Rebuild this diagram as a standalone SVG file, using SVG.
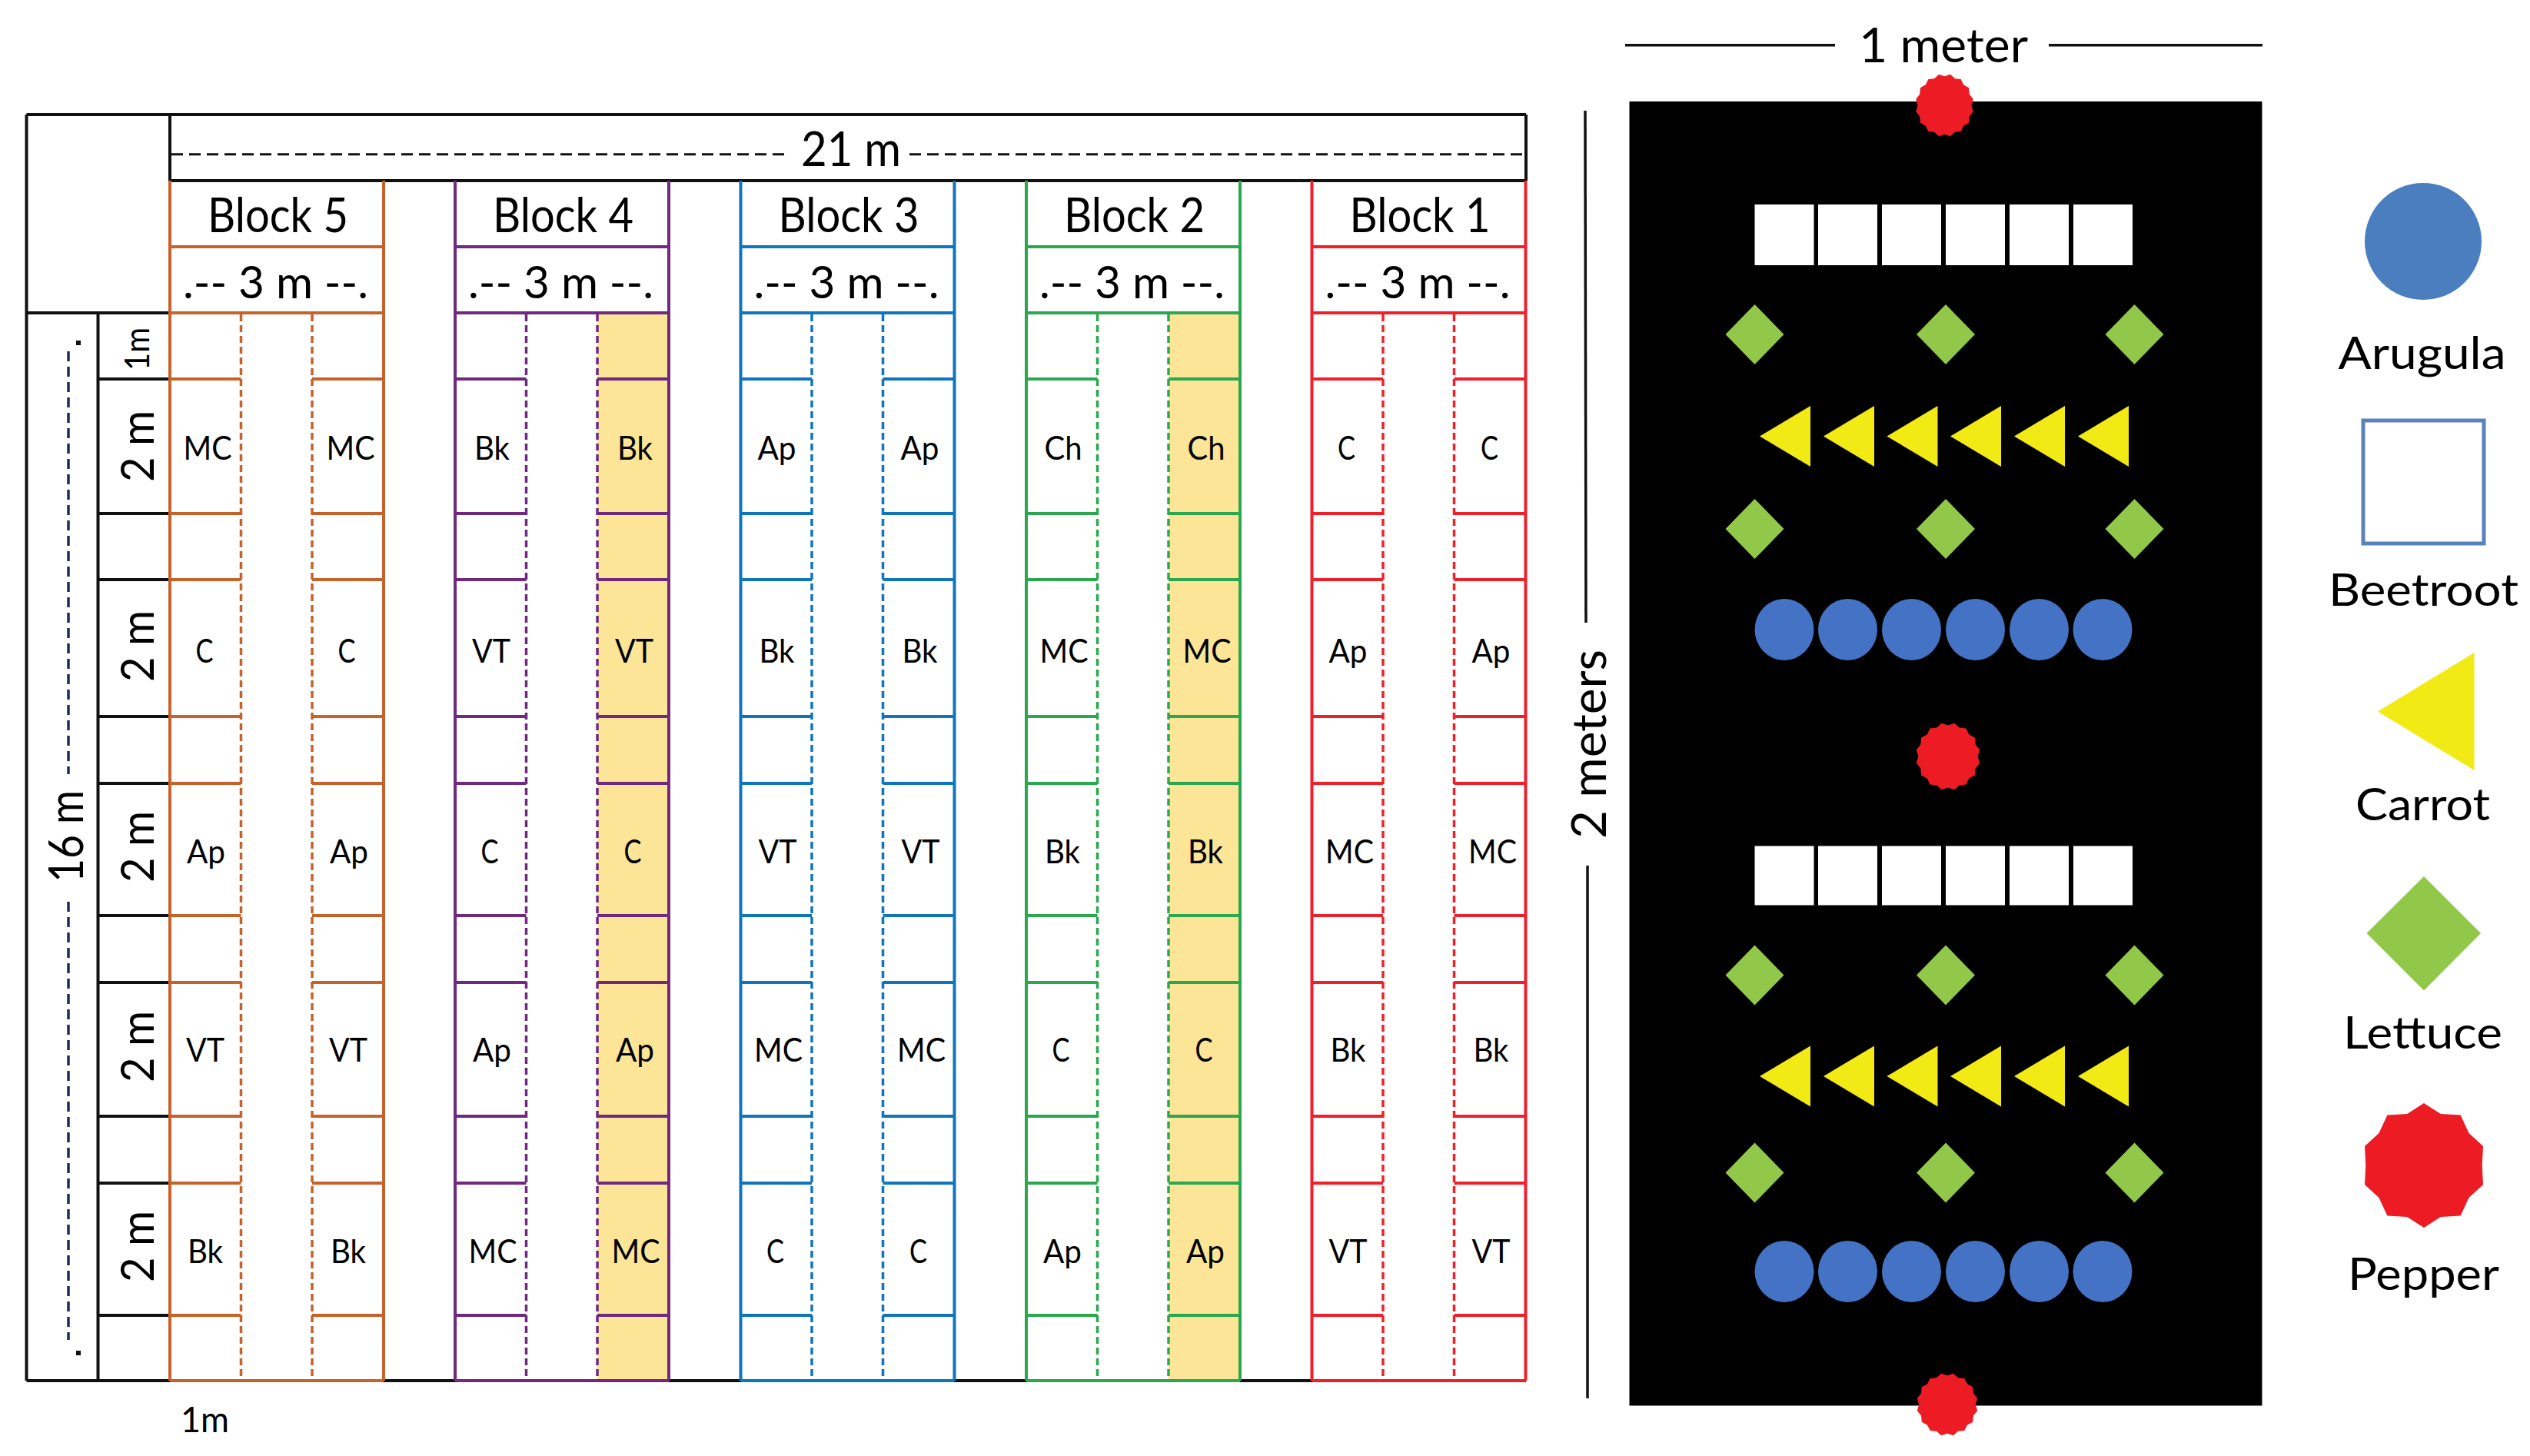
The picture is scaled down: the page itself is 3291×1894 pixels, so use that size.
<svg xmlns="http://www.w3.org/2000/svg" xmlns:xlink="http://www.w3.org/1999/xlink" width="3291" height="1894" viewBox="0 0 3291 1894">
<style>
text{font-family:"Lato","Liberation Sans",sans-serif;fill:#000;}
.hd{font-size:61px;}
.dm{font-size:58px;}
.cell{font-size:43px;text-anchor:middle;}
.rot{font-size:60px;}
.leg{font-size:58px;}
.blk{stroke:#111;stroke-width:4;fill:none;}
.dim{stroke:#111;stroke-width:3.5;fill:none;}
.ddim{stroke:#111;stroke-width:3;fill:none;stroke-dasharray:15 8;}
.lft{stroke:#1c2a5e;stroke-width:3.5;fill:none;stroke-dasharray:13 7;}
.frame line{fill:none;stroke-width:4;}
.frame .d{stroke-width:3.5;stroke-dasharray:9 5;}
.b5{stroke:#C8622B;}.b4{stroke:#6F2A7F;}.b3{stroke:#0F75BD;}.b2{stroke:#2BA84F;}.b1{stroke:#F0202A;}
.g{fill:#92C84A;}.y{fill:#F2EA14;}.r{fill:#ED1C24;}.a{fill:#4472C4;}
</style>
<defs>
<g id="frame" class="frame">
<line x1="0" y1="235" x2="0" y2="1796"/><line x1="278" y1="235" x2="278" y2="1796"/>
<line x1="0" y1="321" x2="278" y2="321"/><line x1="0" y1="407" x2="278" y2="407"/><line x1="0" y1="1796" x2="278" y2="1796"/>
<line class="d" x1="92.5" y1="409" x2="92.5" y2="1792"/><line class="d" x1="185" y1="409" x2="185" y2="1796"/>
<line x1="0" y1="493" x2="92.5" y2="493"/><line x1="185" y1="493" x2="278" y2="493"/>
<line x1="0" y1="668" x2="92.5" y2="668"/><line x1="185" y1="668" x2="278" y2="668"/>
<line x1="0" y1="754" x2="92.5" y2="754"/><line x1="185" y1="754" x2="278" y2="754"/>
<line x1="0" y1="932" x2="92.5" y2="932"/><line x1="185" y1="932" x2="278" y2="932"/>
<line x1="0" y1="1019" x2="92.5" y2="1019"/><line x1="185" y1="1019" x2="278" y2="1019"/>
<line x1="0" y1="1191" x2="92.5" y2="1191"/><line x1="185" y1="1191" x2="278" y2="1191"/>
<line x1="0" y1="1278" x2="92.5" y2="1278"/><line x1="185" y1="1278" x2="278" y2="1278"/>
<line x1="0" y1="1452" x2="92.5" y2="1452"/><line x1="185" y1="1452" x2="278" y2="1452"/>
<line x1="0" y1="1539" x2="92.5" y2="1539"/><line x1="185" y1="1539" x2="278" y2="1539"/>
<line x1="0" y1="1711" x2="92.5" y2="1711"/><line x1="185" y1="1711" x2="278" y2="1711"/>
</g>
<rect id="yel" x="185" y="407" width="93" height="1389" fill="#FDE597"/>
<polygon id="diam" points="0,-39 38,0 0,39 -38,0"/>
<polygon id="carr" points="0,0 66,-39.5 66,39.5"/>
<ellipse id="circ" rx="38.5" ry="40"/>
<rect id="sq" width="77" height="79" fill="#fff"/>
<rect id="sq2" width="77" height="77" fill="#fff"/>
<polygon id="seal16" points="0,-92 19.5,-98.1 35.2,-85 55.6,-83.1 65,-65 83.1,-55.6 85,-35.2 98.1,-19.5 92,0 98.1,19.5 85,35.2 83.1,55.6 65,65 55.6,83.1 35.2,85 19.5,98.1 0,92 -19.5,98.1 -35.2,85 -55.6,83.1 -65,65 -83.1,55.6 -85,35.2 -98.1,19.5 -92,0 -98.1,-19.5 -85,-35.2 -83.1,-55.6 -65,-65 -55.6,-83.1 -35.2,-85 -19.5,-98.1"/>
</defs>
<rect width="3291" height="1894" fill="#fff"/>

<g id="grid-frame">
<line class="blk" x1="34.5" y1="149" x2="1985" y2="149"/>
<line class="blk" x1="34.5" y1="149" x2="34.5" y2="1796"/>
<line class="blk" x1="221" y1="149" x2="221" y2="407"/>
<line class="blk" x1="1985" y1="149" x2="1985" y2="235"/>
<line class="blk" x1="221" y1="235" x2="1985" y2="235"/>
<line class="blk" x1="34.5" y1="407" x2="221" y2="407"/>
<line class="blk" x1="127.5" y1="407" x2="127.5" y2="1796"/>
<line class="blk" x1="34.5" y1="1796" x2="1985" y2="1796"/>
<line class="blk" x1="127.5" y1="493" x2="221" y2="493"/>
<line class="blk" x1="127.5" y1="668" x2="221" y2="668"/>
<line class="blk" x1="127.5" y1="754" x2="221" y2="754"/>
<line class="blk" x1="127.5" y1="932" x2="221" y2="932"/>
<line class="blk" x1="127.5" y1="1019" x2="221" y2="1019"/>
<line class="blk" x1="127.5" y1="1191" x2="221" y2="1191"/>
<line class="blk" x1="127.5" y1="1278" x2="221" y2="1278"/>
<line class="blk" x1="127.5" y1="1452" x2="221" y2="1452"/>
<line class="blk" x1="127.5" y1="1539" x2="221" y2="1539"/>
<line class="blk" x1="127.5" y1="1711" x2="221" y2="1711"/>
</g>

<g id="block-5" transform="translate(221 0)">
<use xlink:href="#frame" href="#frame" class="b5"/>
<text class="hd" x="49" y="302" textLength="183" lengthAdjust="spacingAndGlyphs">Block 5</text>
<text class="dm" x="17" y="388" textLength="241" lengthAdjust="spacingAndGlyphs">.-- 3 m --.</text>
<text class="cell" x="49" y="598" textLength="63" lengthAdjust="spacingAndGlyphs">MC</text><text class="cell" x="235" y="598" textLength="63" lengthAdjust="spacingAndGlyphs">MC</text>
<text class="cell" x="45" y="862" textLength="23" lengthAdjust="spacingAndGlyphs">C</text><text class="cell" x="230" y="862" textLength="23" lengthAdjust="spacingAndGlyphs">C</text>
<text class="cell" x="47" y="1123" textLength="50" lengthAdjust="spacingAndGlyphs">Ap</text><text class="cell" x="233" y="1123" textLength="50" lengthAdjust="spacingAndGlyphs">Ap</text>
<text class="cell" x="46" y="1381" textLength="50" lengthAdjust="spacingAndGlyphs">VT</text><text class="cell" x="232" y="1381" textLength="50" lengthAdjust="spacingAndGlyphs">VT</text>
<text class="cell" x="46" y="1643" textLength="46" lengthAdjust="spacingAndGlyphs">Bk</text><text class="cell" x="232" y="1643" textLength="46" lengthAdjust="spacingAndGlyphs">Bk</text>
</g>

<g id="block-4" transform="translate(592 0)">
<use xlink:href="#yel" href="#yel"/>
<use xlink:href="#frame" href="#frame" class="b4"/>
<text class="hd" x="49" y="302" textLength="183" lengthAdjust="spacingAndGlyphs">Block 4</text>
<text class="dm" x="17" y="388" textLength="241" lengthAdjust="spacingAndGlyphs">.-- 3 m --.</text>
<text class="cell" x="48" y="598" textLength="46" lengthAdjust="spacingAndGlyphs">Bk</text><text class="cell" x="234" y="598" textLength="46" lengthAdjust="spacingAndGlyphs">Bk</text>
<text class="cell" x="47" y="862" textLength="50" lengthAdjust="spacingAndGlyphs">VT</text><text class="cell" x="233" y="862" textLength="50" lengthAdjust="spacingAndGlyphs">VT</text>
<text class="cell" x="45" y="1123" textLength="23" lengthAdjust="spacingAndGlyphs">C</text><text class="cell" x="231" y="1123" textLength="23" lengthAdjust="spacingAndGlyphs">C</text>
<text class="cell" x="48" y="1381" textLength="50" lengthAdjust="spacingAndGlyphs">Ap</text><text class="cell" x="234" y="1381" textLength="50" lengthAdjust="spacingAndGlyphs">Ap</text>
<text class="cell" x="49" y="1643" textLength="63" lengthAdjust="spacingAndGlyphs">MC</text><text class="cell" x="235" y="1643" textLength="63" lengthAdjust="spacingAndGlyphs">MC</text>
</g>

<g id="block-3" transform="translate(963.5 0)">
<use xlink:href="#frame" href="#frame" class="b3"/>
<text class="hd" x="49" y="302" textLength="183" lengthAdjust="spacingAndGlyphs">Block 3</text>
<text class="dm" x="17" y="388" textLength="241" lengthAdjust="spacingAndGlyphs">.-- 3 m --.</text>
<text class="cell" x="47" y="598" textLength="50" lengthAdjust="spacingAndGlyphs">Ap</text><text class="cell" x="233" y="598" textLength="50" lengthAdjust="spacingAndGlyphs">Ap</text>
<text class="cell" x="47" y="862" textLength="46" lengthAdjust="spacingAndGlyphs">Bk</text><text class="cell" x="233" y="862" textLength="46" lengthAdjust="spacingAndGlyphs">Bk</text>
<text class="cell" x="48" y="1123" textLength="50" lengthAdjust="spacingAndGlyphs">VT</text><text class="cell" x="234" y="1123" textLength="50" lengthAdjust="spacingAndGlyphs">VT</text>
<text class="cell" x="49" y="1381" textLength="63" lengthAdjust="spacingAndGlyphs">MC</text><text class="cell" x="235" y="1381" textLength="63" lengthAdjust="spacingAndGlyphs">MC</text>
<text class="cell" x="45" y="1643" textLength="23" lengthAdjust="spacingAndGlyphs">C</text><text class="cell" x="231" y="1643" textLength="23" lengthAdjust="spacingAndGlyphs">C</text>
</g>

<g id="block-2" transform="translate(1335 0)">
<use xlink:href="#yel" href="#yel"/>
<use xlink:href="#frame" href="#frame" class="b2"/>
<text class="hd" x="49" y="302" textLength="183" lengthAdjust="spacingAndGlyphs">Block 2</text>
<text class="dm" x="17" y="388" textLength="241" lengthAdjust="spacingAndGlyphs">.-- 3 m --.</text>
<text class="cell" x="48" y="598" textLength="49" lengthAdjust="spacingAndGlyphs">Ch</text><text class="cell" x="234" y="598" textLength="49" lengthAdjust="spacingAndGlyphs">Ch</text>
<text class="cell" x="49" y="862" textLength="63" lengthAdjust="spacingAndGlyphs">MC</text><text class="cell" x="235" y="862" textLength="63" lengthAdjust="spacingAndGlyphs">MC</text>
<text class="cell" x="47" y="1123" textLength="46" lengthAdjust="spacingAndGlyphs">Bk</text><text class="cell" x="233" y="1123" textLength="46" lengthAdjust="spacingAndGlyphs">Bk</text>
<text class="cell" x="45" y="1381" textLength="23" lengthAdjust="spacingAndGlyphs">C</text><text class="cell" x="231" y="1381" textLength="23" lengthAdjust="spacingAndGlyphs">C</text>
<text class="cell" x="47" y="1643" textLength="50" lengthAdjust="spacingAndGlyphs">Ap</text><text class="cell" x="233" y="1643" textLength="50" lengthAdjust="spacingAndGlyphs">Ap</text>
</g>

<g id="block-1" transform="translate(1706.5 0)">
<use xlink:href="#frame" href="#frame" class="b1"/>
<text class="hd" x="49" y="302" textLength="183" lengthAdjust="spacingAndGlyphs">Block 1</text>
<text class="dm" x="17" y="388" textLength="241" lengthAdjust="spacingAndGlyphs">.-- 3 m --.</text>
<text class="cell" x="45" y="598" textLength="23" lengthAdjust="spacingAndGlyphs">C</text><text class="cell" x="231" y="598" textLength="23" lengthAdjust="spacingAndGlyphs">C</text>
<text class="cell" x="47" y="862" textLength="50" lengthAdjust="spacingAndGlyphs">Ap</text><text class="cell" x="233" y="862" textLength="50" lengthAdjust="spacingAndGlyphs">Ap</text>
<text class="cell" x="49" y="1123" textLength="63" lengthAdjust="spacingAndGlyphs">MC</text><text class="cell" x="235" y="1123" textLength="63" lengthAdjust="spacingAndGlyphs">MC</text>
<text class="cell" x="47" y="1381" textLength="46" lengthAdjust="spacingAndGlyphs">Bk</text><text class="cell" x="233" y="1381" textLength="46" lengthAdjust="spacingAndGlyphs">Bk</text>
<text class="cell" x="47" y="1643" textLength="50" lengthAdjust="spacingAndGlyphs">VT</text><text class="cell" x="233" y="1643" textLength="50" lengthAdjust="spacingAndGlyphs">VT</text>
</g>

<g id="row-labels">
<text style="font-size:45px" transform="translate(194 482) rotate(-90)" textLength="56" lengthAdjust="spacingAndGlyphs">1m</text>
<text class="rot" transform="translate(200 627) rotate(-90)" textLength="93" lengthAdjust="spacingAndGlyphs">2 m</text>
<text class="rot" transform="translate(200 887) rotate(-90)" textLength="93" lengthAdjust="spacingAndGlyphs">2 m</text>
<text class="rot" transform="translate(200 1148) rotate(-90)" textLength="93" lengthAdjust="spacingAndGlyphs">2 m</text>
<text class="rot" transform="translate(200 1408) rotate(-90)" textLength="93" lengthAdjust="spacingAndGlyphs">2 m</text>
<text class="rot" transform="translate(200 1668) rotate(-90)" textLength="93" lengthAdjust="spacingAndGlyphs">2 m</text>
<text style="font-size:62px" transform="translate(108 1148) rotate(-90)" textLength="120" lengthAdjust="spacingAndGlyphs">16 m</text>
<text class="hd" x="1042" y="216" textLength="130" lengthAdjust="spacingAndGlyphs">21 m</text>
<text style="font-size:46px" x="235" y="1863" textLength="63" lengthAdjust="spacingAndGlyphs">1m</text>
</g>

<g id="connectors">
<line class="ddim" x1="223" y1="200.7" x2="1023" y2="200.7"/>
<line class="ddim" x1="1183" y1="200.7" x2="1983" y2="200.7"/>
<line class="lft" x1="89" y1="457" x2="89" y2="1007"/>
<line class="lft" x1="89" y1="1173" x2="89" y2="1743"/>
<rect x="99" y="443" width="6" height="6" fill="#111"/>
<rect x="99" y="1757" width="6" height="6" fill="#111"/>
<line class="dim" x1="2114" y1="58.7" x2="2387" y2="58.7"/>
<line class="dim" x1="2665" y1="58.7" x2="2943" y2="58.7"/>
<line class="dim" x1="2062" y1="144" x2="2063" y2="810"/>
<line class="dim" x1="2065" y1="1126" x2="2065" y2="1819"/>
</g>

<g id="bed">
<rect x="2119.5" y="132" width="823" height="1696.5" fill="#000"/>
<text x="2418" y="81" style="font-size:61px" textLength="220" lengthAdjust="spacingAndGlyphs">1 meter</text>
<text style="font-size:61px" transform="translate(2089 1091) rotate(-90)" textLength="246" lengthAdjust="spacingAndGlyphs">2 meters</text>
</g>

<g id="bed-plants">
<g id="peppers" class="r">
<use xlink:href="#seal16" href="#seal16" transform="translate(2529.5 137) scale(.38 .41)"/>
<use xlink:href="#seal16" href="#seal16" transform="translate(2534 984) scale(.42 .44)"/>
<use xlink:href="#seal16" href="#seal16" transform="translate(2533 1827) scale(.40 .41)"/>
</g>
<g id="beetroot-rows">
<use xlink:href="#sq" href="#sq" x="2282.5" y="266"/><use xlink:href="#sq" href="#sq" x="2365" y="266"/><use xlink:href="#sq" href="#sq" x="2448" y="266"/><use xlink:href="#sq" href="#sq" x="2531" y="266"/><use xlink:href="#sq" href="#sq" x="2614" y="266"/><use xlink:href="#sq" href="#sq" x="2697" y="266"/>
<use xlink:href="#sq2" href="#sq2" x="2282.5" y="1100.5"/><use xlink:href="#sq2" href="#sq2" x="2365" y="1100.5"/><use xlink:href="#sq2" href="#sq2" x="2448" y="1100.5"/><use xlink:href="#sq2" href="#sq2" x="2531" y="1100.5"/><use xlink:href="#sq2" href="#sq2" x="2614" y="1100.5"/><use xlink:href="#sq2" href="#sq2" x="2697" y="1100.5"/>
</g>
<g id="lettuce-rows" class="g">
<use xlink:href="#diam" href="#diam" x="2282.5" y="435"/><use xlink:href="#diam" href="#diam" x="2531" y="435"/><use xlink:href="#diam" href="#diam" x="2776.5" y="435"/>
<use xlink:href="#diam" href="#diam" x="2282.5" y="688"/><use xlink:href="#diam" href="#diam" x="2531" y="688"/><use xlink:href="#diam" href="#diam" x="2776.5" y="688"/>
<use xlink:href="#diam" href="#diam" x="2282.5" y="1268.5"/><use xlink:href="#diam" href="#diam" x="2531" y="1268.5"/><use xlink:href="#diam" href="#diam" x="2776.5" y="1268.5"/>
<use xlink:href="#diam" href="#diam" x="2282.5" y="1525.5"/><use xlink:href="#diam" href="#diam" x="2531" y="1525.5"/><use xlink:href="#diam" href="#diam" x="2776.5" y="1525.5"/>
</g>
<g id="carrot-rows" class="y">
<use xlink:href="#carr" href="#carr" x="2289" y="567.5"/><use xlink:href="#carr" href="#carr" x="2372" y="567.5"/><use xlink:href="#carr" href="#carr" x="2454.5" y="567.5"/><use xlink:href="#carr" href="#carr" x="2537" y="567.5"/><use xlink:href="#carr" href="#carr" x="2620" y="567.5"/><use xlink:href="#carr" href="#carr" x="2703" y="567.5"/>
<use xlink:href="#carr" href="#carr" x="2289" y="1400"/><use xlink:href="#carr" href="#carr" x="2372" y="1400"/><use xlink:href="#carr" href="#carr" x="2454.5" y="1400"/><use xlink:href="#carr" href="#carr" x="2537" y="1400"/><use xlink:href="#carr" href="#carr" x="2620" y="1400"/><use xlink:href="#carr" href="#carr" x="2703" y="1400"/>
</g>
<g id="arugula-rows" class="a">
<use xlink:href="#circ" href="#circ" x="2321" y="819"/><use xlink:href="#circ" href="#circ" x="2403.5" y="819"/><use xlink:href="#circ" href="#circ" x="2486.5" y="819"/><use xlink:href="#circ" href="#circ" x="2569.5" y="819"/><use xlink:href="#circ" href="#circ" x="2652.5" y="819"/><use xlink:href="#circ" href="#circ" x="2735" y="819"/>
<use xlink:href="#circ" href="#circ" x="2321" y="1654"/><use xlink:href="#circ" href="#circ" x="2403.5" y="1654"/><use xlink:href="#circ" href="#circ" x="2486.5" y="1654"/><use xlink:href="#circ" href="#circ" x="2569.5" y="1654"/><use xlink:href="#circ" href="#circ" x="2652.5" y="1654"/><use xlink:href="#circ" href="#circ" x="2735" y="1654"/>
</g>
</g>

<g id="legend-arugula">
<ellipse cx="3152" cy="314" rx="76" ry="76" fill="#4A7EBF"/>
<text class="leg" x="3041.5" y="480" textLength="218" lengthAdjust="spacingAndGlyphs">Arugula</text>
</g>
<g id="legend-beetroot">
<rect x="3074" y="547" width="157" height="160" fill="#fff" stroke="#5B82BC" stroke-width="5"/>
<text class="leg" x="3029" y="788" textLength="247" lengthAdjust="spacingAndGlyphs">Beetroot</text>
</g>
<g id="legend-carrot">
<polygon class="y" points="3093,925.5 3218.5,849 3218.5,1002"/>
<text class="leg" x="3064" y="1067" textLength="175" lengthAdjust="spacingAndGlyphs">Carrot</text>
</g>
<g id="legend-lettuce">
<polygon class="g" points="3153,1140 3227,1214 3153,1288.5 3078.5,1214"/>
<text class="leg" x="3048" y="1364" textLength="207" lengthAdjust="spacingAndGlyphs">Lettuce</text>
</g>
<g id="legend-pepper">
<polygon class="r" points="3153,1435 3174.8,1449 3200.6,1450.5 3211.5,1474 3230,1491 3228.7,1516 3230,1541 3211.5,1558 3200.6,1581.5 3174.8,1583 3153,1597 3131.2,1583 3105.4,1581.5 3094.5,1558 3076,1541 3077.3,1516 3076,1491 3094.5,1474 3105.4,1450.5 3131.2,1449"/>
<text class="leg" x="3054" y="1678" textLength="197" lengthAdjust="spacingAndGlyphs">Pepper</text>
</g>
</svg>
